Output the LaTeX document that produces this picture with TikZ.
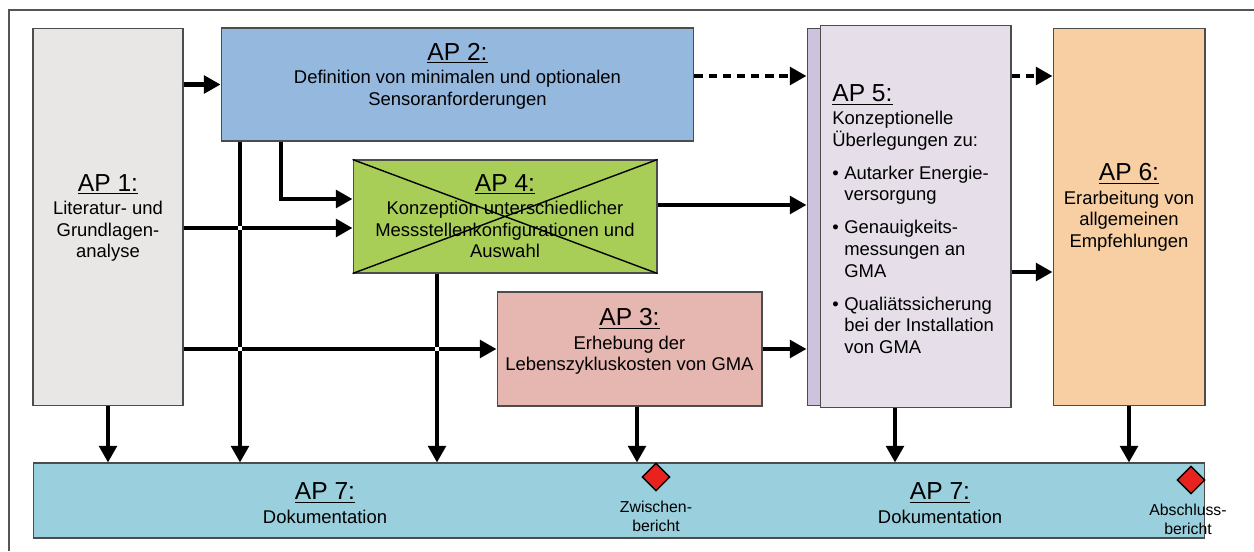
\documentclass[tikz,border=0pt]{standalone}
\usepackage{fontspec}
\setmainfont{Liberation Sans}
\usepackage{xcolor}
\usetikzlibrary{arrows.meta, shapes.geometric, calc}

\definecolor{apgray}{HTML}{E8E7E6}
\definecolor{apblue}{HTML}{95B8DF}
\definecolor{apgreen}{HTML}{A8CE58}
\definecolor{appink}{HTML}{E6B6B1}
\definecolor{aplila}{HTML}{E6DFEA}
\definecolor{aplilab}{HTML}{CDC3DC}
\definecolor{aporange}{HTML}{F8CFA2}
\definecolor{apcyan}{HTML}{9ACFDD}
\definecolor{msred}{HTML}{E8231F}
\definecolor{rahmen}{HTML}{555555}

\newcommand\bodyfont{\fontsize{10.5}{12.3}\selectfont}
\newcommand\apfont{\fontsize{14}{12.3}\selectfont}
\newcommand\aplabel[1]{{\apfont\underline{#1}}}
\newcommand\itembullet{\makebox[6.8pt][l]{\textbullet}}
\newcommand\bulletgap{\hspace*{6.8pt}}

\tikzset{
  box/.style={draw=black!70, line width=0.6pt, inner sep=0pt},
  arr/.style={line width=2.3pt, -{Triangle[length=9.5pt,width=10pt]}},
  dasharr/.style={arr, dash pattern=on 5pt off 3pt},
  txt/.style={align=center, font=\bodyfont, inner sep=0pt},
  milestone/.style={diamond, draw=black, line width=0.8pt, fill=msred, minimum size=0.56cm, inner sep=0pt},
  mstxt/.style={align=center, font=\fontsize{9}{10.8}\selectfont, inner sep=0pt}
}

\begin{document}
\begin{tikzpicture}[x=0.02cm, y=-0.02cm]
\useasboundingbox (0,0) rectangle (1254,551);

\draw[rahmen, line width=0.9pt] (9,551) -- (9,10) -- (1254,10);

\node[box, fill=apgray, minimum width=3cm, minimum height=7.56cm] (ap1) at (108,217) {};
\node[box, fill=apblue, minimum width=9.46cm, minimum height=2.26cm] (ap2) at (457.5,84.5) {};
\node[box, fill=apgreen, minimum width=6.08cm, minimum height=2.26cm] (ap4) at (505,216.5) {};
\node[box, fill=appink, minimum width=5.3cm, minimum height=2.28cm] (ap3) at (629.5,349) {};
\node[box, fill=aplilab, minimum width=3.86cm, minimum height=7.56cm] (ap5b) at (903.5,217) {};
\node[box, fill=aplila, minimum width=3.82cm, minimum height=7.66cm] (ap5) at (915.5,216.5) {};
\node[box, fill=aporange, minimum width=3.04cm, minimum height=7.56cm] (ap6) at (1129,217) {};
\node[box, fill=apcyan, minimum width=23.44cm, minimum height=1.5cm] (ap7) at (619,500.5) {};

\node[txt] (ap1txt) at (108,218) {\aplabel{AP 1:}\\[1pt] Literatur- und\\ Grundlagen-\\ analyse};
\node[txt] (ap2txt) at (457.5,76) {\aplabel{AP 2:}\\[1pt] Definition von minimalen und optionalen\\ Sensoranforderungen};
\node[txt] (ap4txt) at (505,216) {\aplabel{AP 4:}\\[1pt] Konzeption unterschiedlicher\\ Messstellenkonfigurationen und\\ Auswahl};
\node[txt] (ap3txt) at (629.5,341.5) {\aplabel{AP 3:}\\[1pt] Erhebung der\\ Lebenszykluskosten von GMA};
\node[txt, align=left, anchor=west] (ap5txt) at (832,219) {\aplabel{AP 5:}\\[1pt]
  Konzeptionelle\\ Überlegungen zu:\\[6.5pt]
  \itembullet Autarker Energie-\\ \bulletgap versorgung\\[6.5pt]
  \itembullet Genauigkeits-\\ \bulletgap messungen an\\ \bulletgap GMA\\[6.5pt]
  \itembullet Qualiätssicherung\\ \bulletgap bei der Installation\\ \bulletgap von GMA};
\node[txt] (ap6txt) at (1129,207.5) {\aplabel{AP 6:}\\[1pt] Erarbeitung von\\ allgemeinen\\ Empfehlungen};
\node[txt] (ap7txta) at (325,503) {\aplabel{AP 7:}\\[1pt] Dokumentation};
\node[txt] (ap7txtb) at (940,503) {\aplabel{AP 7:}\\[1pt] Dokumentation};

\draw[line width=0.8pt] (ap4.north west) -- (ap4.south east) (ap4.south west) -- (ap4.north east);

\draw[arr] (ap2.south -| 240,0) -- (ap7.north -| 240,0);
\draw[arr] (ap4.south -| 437,0) -- (ap7.north -| 437,0);
\draw[arr] (ap1.east |- 0,228) -- (ap4.west |- 0,228);
\draw[arr] (ap1.east |- ap3.west) -- (ap3.west);
\foreach \p in {(240,228),(240,349),(437,349)}
  \fill[white] \p +(-2,-2) rectangle +(2,2);

\draw[arr] (ap1.east |- ap2.west) -- (ap2.west);
\draw[dasharr] (ap2.east |- 0,76) -- (ap5b.west |- 0,76);
\draw[dasharr] (ap5.east |- 0,76) -- (ap6.west |- 0,76);
\draw[arr] (ap2.south -| 281,0) |- (ap4.west |- 0,199);
\draw[arr] (ap4.east |- 0,205) -- (ap5b.west |- 0,205);
\draw[arr] (ap3.east) -- (ap5b.west |- ap3.east);
\draw[arr] (ap5.east |- 0,272) -- (ap6.west |- 0,272);

\draw[arr] (ap1.south) -- (ap1.south |- ap7.north);
\draw[arr] (ap3.south -| 637,0) -- (ap7.north -| 637,0);
\draw[arr] (ap5.south -| 895,0) -- (ap7.north -| 895,0);
\draw[arr] (ap6.south) -- (ap6.south |- ap7.north);

\node[milestone] (zb) at (656,477) {};
\node[milestone] (ab) at (1191,480) {};
\node[mstxt] (zbtxt) at (656,516) {Zwischen-\\ bericht};
\node[mstxt] (abtxt) at (1188,519) {Abschluss-\\ bericht};

\end{tikzpicture}
\end{document}
